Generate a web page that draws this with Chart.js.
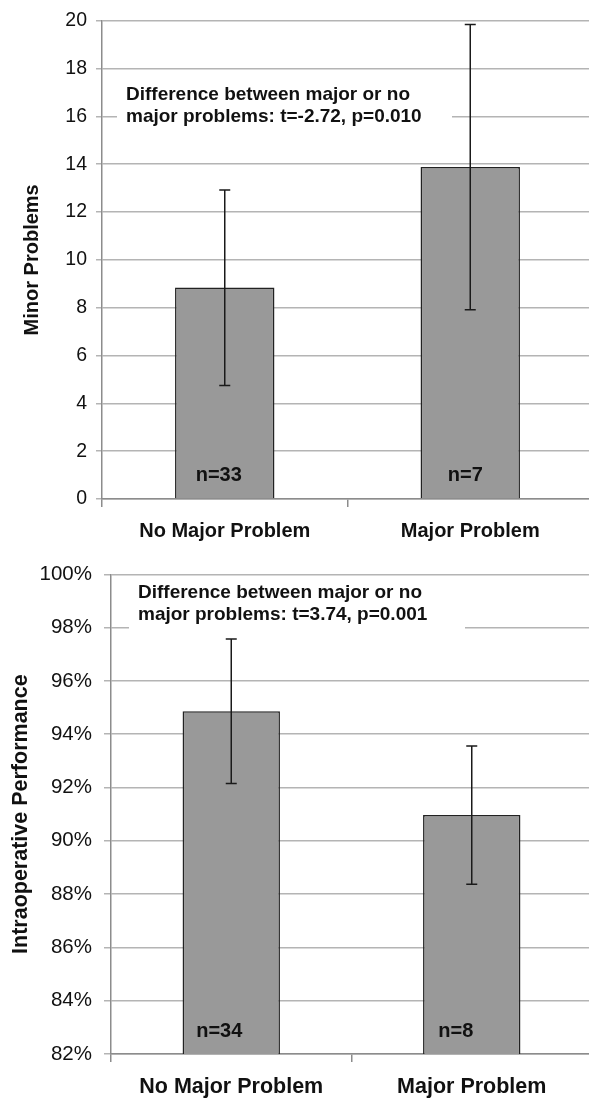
<!DOCTYPE html>
<html>
<head>
<meta charset="utf-8">
<script src="https://cdn.jsdelivr.net/npm/chart.js@4.4.1/dist/chart.umd.min.js"></script>
<style>
    html, body { margin: 0; padding: 0; background: #fff; overflow: hidden; }
    #wrap { position: relative; width: 589px; height: 1100px; overflow: hidden; }
    .panel { position: absolute; left: 0; }
</style>
</head>
<body>
<div id="wrap">
    <div class="panel" style="top:0"><canvas id="chart-minor" width="593" height="550"></canvas></div>
    <div class="panel" style="top:550px"><canvas id="chart-perf" width="592" height="550"></canvas></div>
</div>
<script>
var categories = ['No Major Problem', 'Major Problem'];

// top panel: minor problems (mean, error bar ends, group size)
var minorMean = [8.84, 13.88];
var minorLow = [4.75, 7.91];
var minorHigh = [12.92, 19.84];
var minorN = ['n=33', 'n=7'];
var minorTicks = [0, 2, 4, 6, 8, 10, 12, 14, 16, 18, 20];
var minorNote = ['Difference between major or no', 'major problems: t=-2.72, p=0.010'];

// bottom panel: intraoperative performance in %
var perfMean = [94.86, 90.97];
var perfLow = [92.15, 88.37];
var perfHigh = [97.57, 93.56];
var perfN = ['n=34', 'n=8'];
var perfTicks = [82, 84, 86, 88, 90, 92, 94, 96, 98, 100];
var perfNote = ['Difference between major or no', 'major problems: t=3.74, p=0.001'];

var FONT = '"Liberation Sans", Arial, sans-serif';
var INK = '#111';
var GRID = '#b4b4b4';
var AXIS = '#8c8c8c';

var extrasPlugin = {
    id: 'extras',
    beforeDatasetsDraw: function(chart, args, opts) {
        var ctx = chart.ctx;
        ctx.save();
        ctx.fillStyle = '#fff';
        ctx.fillRect(opts.box[0], opts.box[1], opts.box[2], opts.box[3]);
        ctx.fillStyle = INK;
        ctx.font = 'bold ' + opts.noteSize + 'px ' + FONT;
        ctx.textAlign = 'left';
        ctx.textBaseline = 'middle';
        opts.note.forEach(function(line, i) {
            ctx.fillText(line, opts.noteX, opts.noteY + i * opts.noteGap);
        });
        ctx.restore();
    },
    afterDatasetsDraw: function(chart, args, opts) {
        var ctx = chart.ctx;
        var xs = chart.scales.x;
        var ys = chart.scales.y;
        ctx.save();
        ctx.strokeStyle = '#1a1a1a';
        ctx.lineWidth = 1.5;
        opts.low.forEach(function(lo, i) {
            var px = xs.getPixelForValue(i);
            var y1 = ys.getPixelForValue(lo);
            var y2 = ys.getPixelForValue(opts.high[i]);
            ctx.beginPath();
            ctx.moveTo(px, y1);
            ctx.lineTo(px, y2);
            ctx.moveTo(px - 5.5, y1);
            ctx.lineTo(px + 5.5, y1);
            ctx.moveTo(px - 5.5, y2);
            ctx.lineTo(px + 5.5, y2);
            ctx.stroke();
        });
        ctx.fillStyle = INK;
        ctx.font = 'bold ' + opts.nSize + 'px ' + FONT;
        ctx.textAlign = 'center';
        ctx.textBaseline = 'middle';
        opts.nLabels.forEach(function(t, i) {
            ctx.fillText(t, xs.getPixelForValue(i) + opts.nDx[i], opts.nY);
        });
        ctx.restore();
    }
};

function makeChart(id, cfg) {
    var ticks = cfg.ticks;
    return new Chart(document.getElementById(id), {
        type: 'bar',
        data: {
            labels: categories,
            datasets: [{
                data: cfg.mean,
                backgroundColor: '#999999',
                borderColor: '#222',
                borderWidth: 1.5,
                barPercentage: 0.405,
                categoryPercentage: 1
            }]
        },
        options: {
            responsive: false,
            animation: false,
            devicePixelRatio: 1,
            layout: { padding: { top: cfg.padTop, left: 0, right: 0, bottom: 0 } },
            plugins: {
                legend: { display: false },
                tooltip: { enabled: false },
                extras: {
                    low: cfg.low,
                    high: cfg.high,
                    nLabels: cfg.n,
                    nDx: cfg.nDx,
                    nY: cfg.nY,
                    nSize: 20,
                    note: cfg.note,
                    noteX: cfg.noteX,
                    noteY: cfg.noteY,
                    noteGap: cfg.noteGap,
                    noteSize: 19,
                    box: cfg.box
                }
            },
            scales: {
                x: {
                    grid: {
                        display: true,
                        drawOnChartArea: false,
                        drawTicks: true,
                        tickLength: 8,
                        color: AXIS,
                        lineWidth: 1.5,
                        offset: true
                    },
                    border: { color: AXIS, width: 1.5 },
                    ticks: {
                        color: INK,
                        padding: 12,
                        font: { family: FONT, size: cfg.catSize, weight: 'bold' }
                    },
                    afterFit: function(s) { s.height = cfg.xHeight; }
                },
                y: {
                    min: ticks[0],
                    max: ticks[ticks.length - 1],
                    afterBuildTicks: function(s) {
                        s.ticks = ticks.map(function(v) { return { value: v }; });
                    },
                    grid: { color: GRID, lineWidth: 1.5, tickLength: cfg.yTickLen },
                    border: { color: AXIS, width: 1.5 },
                    ticks: {
                        color: INK,
                        padding: cfg.yPad,
                        font: { family: FONT, size: cfg.tickSize },
                        callback: cfg.fmt
                    },
                    title: {
                        display: true,
                        text: cfg.title,
                        color: INK,
                        font: { family: FONT, size: cfg.titleSize, weight: 'bold' },
                        padding: { top: cfg.titlePad, bottom: 0 }
                    },
                    afterFit: function(s) { s.width = cfg.yWidth; }
                }
            }
        },
        plugins: [extrasPlugin]
    });
}

Chart.defaults.font.family = FONT;

makeChart('chart-minor', {
    mean: minorMean, low: minorLow, high: minorHigh, n: minorN, ticks: minorTicks,
    nDx: [-6, -5], nY: 475,
    note: minorNote, noteX: 126, noteY: 95, noteGap: 22, box: [117, 80, 335, 52],
    padTop: 16, xHeight: 51, yWidth: 102, yTickLen: 6, yPad: 9,
    tickSize: 19.5, titleSize: 20, titlePad: 20, catSize: 20,
    title: 'Minor Problems',
    fmt: function(v) { return v; }
});

makeChart('chart-perf', {
    mean: perfMean, low: perfLow, high: perfHigh, n: perfN, ticks: perfTicks,
    nDx: [-12, -16], nY: 481,
    note: perfNote, noteX: 138, noteY: 43, noteGap: 21.5, box: [129, 27, 336, 53],
    padTop: 22, xHeight: 46, yWidth: 111, yTickLen: 7, yPad: 12,
    tickSize: 20.5, titleSize: 21.5, titlePad: 8, catSize: 21.5,
    title: 'Intraoperative Performance',
    fmt: function(v) { return v + '%'; }
});
</script>
</body>
</html>
